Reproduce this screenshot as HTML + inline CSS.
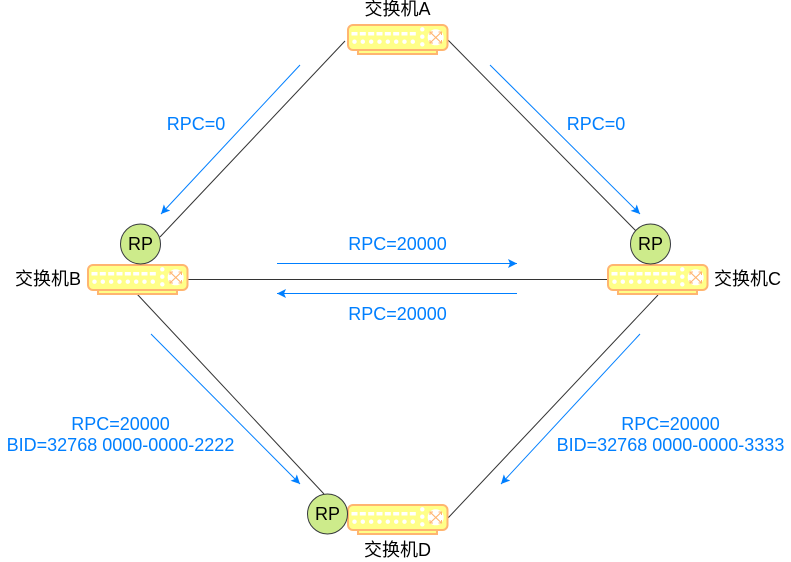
<!DOCTYPE html>
<html>
<head>
<meta charset="utf-8">
<style>
html,body{margin:0;padding:0;background:#fff;width:791px;height:562px;overflow:hidden}
svg{display:block}
text{font-family:"Liberation Sans","Noto Sans CJK SC",sans-serif;font-size:18px}
.b{fill:#007FFF;text-anchor:middle}
.k{fill:#000;text-anchor:middle}
</style>
</head>
<body>
<svg width="791" height="562" viewBox="0 0 791 562" xmlns="http://www.w3.org/2000/svg">
<defs>
<g id="sw">
<rect x="11" y="22" width="79" height="8" fill="#FFFF88" stroke="#FFB570" stroke-width="2"/>
<rect x="1" y="1" width="99.500" height="25" rx="5" fill="#FFFF88" stroke="#FFB570" stroke-width="2"/>
<g fill="#fff">
<rect x="4.500" y="8" width="6" height="3.500"/><rect x="12.800" y="8" width="6" height="3.500"/><rect x="21.200" y="8" width="6" height="3.500"/><rect x="29.500" y="8" width="6" height="3.500"/><rect x="37.800" y="8" width="6" height="3.500"/><rect x="46.200" y="8" width="6" height="3.500"/><rect x="54.500" y="8" width="6" height="3.500"/><rect x="62.800" y="8" width="6" height="3.500"/>
<circle cx="7.500" cy="17.700" r="2.200"/><circle cx="15.800" cy="17.700" r="2.200"/><circle cx="24.200" cy="17.700" r="2.200"/><circle cx="32.500" cy="17.700" r="2.200"/><circle cx="40.800" cy="17.700" r="2.200"/><circle cx="49.200" cy="17.700" r="2.200"/><circle cx="57.500" cy="17.700" r="2.200"/><circle cx="65.800" cy="17.700" r="2.200"/>
<circle cx="75.300" cy="5.300" r="2.200"/><circle cx="75.300" cy="12.700" r="2.200"/><circle cx="75.300" cy="20.300" r="2.200"/>
<circle cx="88.700" cy="13.300" r="8"/>
</g>
<path d="M83.500 8.500L94 18.500M94 8.500L83.500 18.500" stroke="#FFB570" stroke-width="1.200" fill="none"/>
<path d="M83 11V8H86M91.500 8H94.500V11M83 16V19H86M91.500 19H94.500V16" stroke="#FFB570" stroke-width="1" fill="none"/>
</g>
<marker id="a" markerWidth="10" markerHeight="9" refX="9" refY="4.500" orient="auto" markerUnits="userSpaceOnUse">
<path d="M0 0L9 4.500L0 9L2 4.500Z" fill="#007FFF"/>
</marker>
</defs>

<g stroke="#333" stroke-width="1" fill="none">
<path d="M345 41L160 237"/>
<path d="M448 40L636 231"/>
<path d="M188 279.500H607"/>
<path d="M137 294L324 494"/>
<path d="M448 518L658 295"/>
</g>

<g stroke="#007FFF" stroke-width="1" fill="none">
<path d="M300 65L161 214" marker-end="url(#a)"/>
<path d="M490 65L640 214" marker-end="url(#a)"/>
<path d="M277 263.500H517" marker-end="url(#a)"/>
<path d="M517 293.500H277" marker-end="url(#a)"/>
<path d="M151 334L300 484" marker-end="url(#a)"/>
<path d="M640 334L501 484" marker-end="url(#a)"/>
</g>

<use href="#sw" x="347" y="24"/>
<use href="#sw" x="87" y="264"/>
<use href="#sw" x="607" y="264"/>
<use href="#sw" x="347" y="504"/>

<g fill="#CDEB8B" stroke="#36393D" stroke-width="1">
<circle cx="140.500" cy="244" r="20"/>
<circle cx="650.500" cy="244" r="20"/>
<circle cx="327.500" cy="514" r="20"/>
</g>

<text class="k" x="140.500" y="250">RP</text>
<text class="k" x="650.500" y="250">RP</text>
<text class="k" x="327.500" y="520">RP</text>

<text class="k" x="397.500" y="15">交换机A</text>
<text class="k" x="48" y="285">交换机B</text>
<text class="k" x="747.500" y="285">交换机C</text>
<text class="k" x="397.500" y="556">交换机D</text>

<text class="b" x="196" y="130">RPC=0</text>
<text class="b" x="596" y="130">RPC=0</text>
<text class="b" x="397.500" y="250">RPC=20000</text>
<text class="b" x="397.500" y="320">RPC=20000</text>
<text class="b" x="120.500" y="430">RPC=20000</text>
<text class="b" x="120.500" y="451">BID=32768 0000-0000-2222</text>
<text class="b" x="670.500" y="430">RPC=20000</text>
<text class="b" x="670.500" y="451">BID=32768 0000-0000-3333</text>
</svg>
</body>
</html>
